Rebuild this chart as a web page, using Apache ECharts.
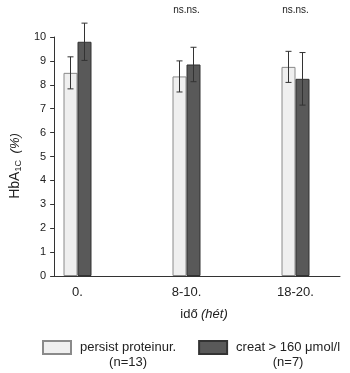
<!DOCTYPE html>
<html>
<head>
<meta charset="utf-8">
<script src="https://cdn.jsdelivr.net/npm/echarts@6/dist/echarts.min.js"></script>
<style>
  html, body { margin: 0; padding: 0; background: #fff; }
  #chart { width: 350px; height: 373px; }
</style>
</head>
<body>
<div id="chart"></div>
<script>
var categories = ['0.', '8-10.', '18-20.'];
var seriesNames = ['persist proteinur.', 'creat > 160 μmol/l'];
var seriesCounts = ['(n=13)', '(n=7)'];
var persistVals = [8.5, 8.35, 8.75];
var persistErr = [0.67, 0.65, 0.65];
var creatVals = [9.8, 8.85, 8.25];
var creatErr = [0.78, 0.72, 1.1];
var sigLabels = ['', 'ns.ns.', 'ns.ns.'];
var yTicks = [0, 1, 2, 3, 4, 5, 6, 7, 8, 9, 10];

var font = '"Liberation Sans", Arial, sans-serif';
var ink = '#222';
var barW = 14;

// hibasav (error bar) rajzolo
function errorBar(offset) {
    return function (params, api) {
        var c = api.value(0);
        var x = api.coord([c, 0])[0] + offset;
        var hi = api.coord([c, api.value(1) + api.value(2)])[1];
        var lo = api.coord([c, api.value(1) - api.value(2)])[1];
        var st = { stroke: '#333', lineWidth: 1 };
        return {
            type: 'group',
            children: [
                { type: 'line', shape: { x1: x, y1: hi, x2: x, y2: lo }, style: st },
                { type: 'line', shape: { x1: x - 3, y1: hi, x2: x + 3, y2: hi }, style: st },
                { type: 'line', shape: { x1: x - 3, y1: lo, x2: x + 3, y2: lo }, style: st }
            ]
        };
    };
}

var chart = echarts.init(document.getElementById('chart'));
var option = {
    animation: false,
    textStyle: { fontFamily: font, color: ink },
    grid: [
        { left: 23, width: 336, top: 37, bottom: 97 },   // oszlopok
        { left: 42, right: 10, top: 37, bottom: 97 }     // tengelyek
    ],
    legend: {
        left: 42,
        top: 340,
        padding: 0,
        itemWidth: 28,
        itemHeight: 13,
        itemGap: 22,
        icon: 'rect',
        selectedMode: false,
        data: seriesNames,
        formatter: function (name) {
            return '{t|' + name + '}\n{n|' + seriesCounts[seriesNames.indexOf(name)] + '}';
        },
        textStyle: {
            padding: [15, 0, 0, 4],
            rich: {
                t: { fontSize: 13, lineHeight: 15, color: ink, fontFamily: font },
                n: { fontSize: 13, lineHeight: 15, color: ink, fontFamily: font, align: 'center' }
            }
        }
    },
    xAxis: [
        {
            gridIndex: 0,
            type: 'category',
            data: categories,
            axisLine: { show: false },
            axisTick: { show: false },
            axisLabel: { fontSize: 13, margin: 10, color: ink }
        },
        {
            gridIndex: 1,
            type: 'value',
            min: 0,
            max: 1,
            axisLine: { show: true, lineStyle: { color: '#333' } },
            axisTick: { show: false },
            axisLabel: { show: false },
            splitLine: { show: false },
            name: '{a|idő} {b|(hét)}',
            nameLocation: 'middle',
            nameGap: 32,
            nameTextStyle: {
                padding: [0, 0, 0, 14],
                rich: {
                    a: { fontSize: 13, color: ink, fontFamily: font },
                    b: { fontSize: 13, color: ink, fontFamily: font, fontStyle: 'italic' }
                }
            }
        }
    ],
    yAxis: [
        { gridIndex: 0, type: 'value', min: 0, max: 10, show: false },
        {
            gridIndex: 1,
            type: 'value',
            min: yTicks[0],
            max: yTicks[yTicks.length - 1],
            interval: 1,
            axisLine: { show: true, lineStyle: { color: '#333' } },
            axisTick: { show: true, length: 4, lineStyle: { color: '#333' } },
            axisLabel: { fontSize: 11, margin: 8, color: ink },
            splitLine: { show: false },
            name: '{a|HbA}{s|1C}  {i|(%)}',
            nameLocation: 'middle',
            nameGap: 22,
            nameTextStyle: {
                padding: [0, 19, 0, 0],
                rich: {
                    a: { fontSize: 14, color: ink, fontFamily: font, lineHeight: 16 },
                    s: { fontSize: 9, color: ink, fontFamily: font, verticalAlign: 'bottom', lineHeight: 16 },
                    i: { fontSize: 13, color: ink, fontFamily: font, fontStyle: 'italic', lineHeight: 16 }
                }
            }
        }
    ],
    series: [
        {
            name: seriesNames[0],
            type: 'bar',
            xAxisIndex: 0,
            yAxisIndex: 0,
            barWidth: barW,
            barGap: '0%',
            itemStyle: { color: '#efefef', borderColor: '#8a8a8a', borderWidth: 1 },
            data: persistVals
        },
        {
            name: seriesNames[1],
            type: 'bar',
            xAxisIndex: 0,
            yAxisIndex: 0,
            barWidth: barW,
            barGap: '0%',
            itemStyle: { color: '#595959', borderColor: '#333', borderWidth: 1 },
            data: creatVals
        },
        {
            type: 'custom',
            xAxisIndex: 0,
            yAxisIndex: 0,
            renderItem: errorBar(-barW / 2),
            data: persistVals.map(function (v, i) { return [i, v, persistErr[i]]; }),
            z: 5
        },
        {
            type: 'custom',
            xAxisIndex: 0,
            yAxisIndex: 0,
            renderItem: errorBar(barW / 2),
            data: creatVals.map(function (v, i) { return [i, v, creatErr[i]]; }),
            z: 5
        },
        {
            // szignifikancia feliratok
            type: 'custom',
            xAxisIndex: 0,
            yAxisIndex: 0,
            renderItem: function (params, api) {
                var p = api.coord([api.value(0), 10]);
                return {
                    type: 'text',
                    style: {
                        x: p[0], y: p[1] - 27,
                        text: sigLabels[params.dataIndex],
                        fill: ink, font: '10px ' + font,
                        textAlign: 'center', textVerticalAlign: 'middle'
                    }
                };
            },
            data: sigLabels.map(function (s, i) { return [i, 10]; })
        }
    ]
};
chart.setOption(option);
</script>
</body>
</html>
